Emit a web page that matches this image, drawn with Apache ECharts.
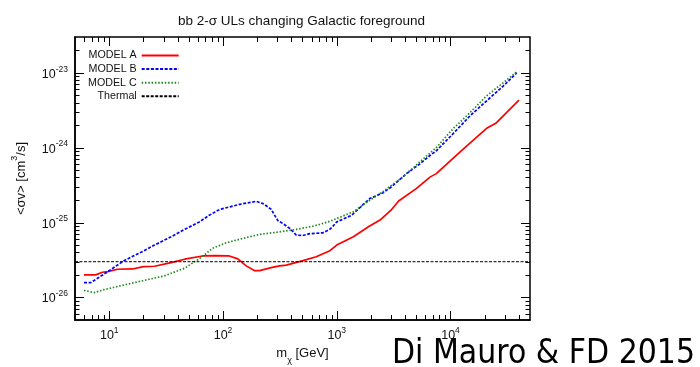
<!DOCTYPE html>
<html>
<head>
<meta charset="utf-8">
<script src="https://cdn.jsdelivr.net/npm/echarts@6/dist/echarts.min.js"></script>
<style>
  html, body { margin: 0; padding: 0; background: #fff; }
  #chart { width: 700px; height: 367px; }
</style>
</head>
<body>
<div id="chart"></div>
<script>
// Dark-matter mass (GeV) and 2-sigma upper limits on <sigma v> (cm^3/s), bb channel
const massA = [6, 7.6, 8.7, 9.7, 11.8, 16, 20, 25, 35, 46, 66, 85, 112, 135, 160, 190, 210, 265, 315, 360, 505, 660, 870, 1000, 1400, 1900, 2400, 3000, 3500, 5000, 6600, 7500, 12500, 21000, 25000, 40000];
const sigmaA = [2.0e-26, 2.0e-26, 2.17e-26, 2.21e-26, 2.38e-26, 2.4e-26, 2.58e-26, 2.61e-26, 2.92e-26, 3.24e-26, 3.58e-26, 3.62e-26, 3.6e-26, 3.27e-26, 2.64e-26, 2.28e-26, 2.28e-26, 2.5e-26, 2.64e-26, 2.7e-26, 3.1e-26, 3.5e-26, 4.21e-26, 5.0e-26, 6.46e-26, 8.77e-26, 1.08e-25, 1.46e-25, 1.94e-25, 2.84e-25, 4.04e-25, 4.5e-25, 9.15e-25, 1.83e-24, 2.11e-24, 4.31e-24];

const massB = [6, 6.9, 9.7, 13.5, 20, 25, 35, 46, 62, 75, 93, 115, 140, 196, 225, 266, 280, 304, 336, 386, 441, 500, 578, 757, 867, 930, 1000, 1350, 1950, 2560, 3030, 4100, 5400, 6600, 7550, 10600, 14900, 20800, 29200, 38300];
const sigmaB = [1.58e-26, 1.58e-26, 2.21e-26, 3.1e-26, 4.17e-26, 5.0e-26, 6.46e-26, 8.1e-26, 1.02e-25, 1.24e-25, 1.49e-25, 1.62e-25, 1.75e-25, 1.92e-25, 1.79e-25, 1.5e-25, 1.3e-25, 1.06e-25, 9.7e-26, 8.35e-26, 6.8e-26, 6.7e-26, 7.1e-26, 7.3e-26, 8.1e-26, 9.0e-26, 1.02e-25, 1.25e-25, 2.09e-25, 2.5e-25, 3.0e-25, 4.49e-25, 6.1e-25, 7.85e-25, 9.15e-25, 1.55e-24, 2.67e-24, 4.22e-24, 6.68e-24, 1.0e-23];

const massC = [6, 7.4, 9, 13.5, 20, 30.5, 46, 64, 81, 107, 150, 210, 294, 441, 620, 708, 870, 1000, 1400, 1950, 2560, 3840, 5400, 7550, 10600, 14900, 20800, 29200, 38300];
const sigmaC = [1.24e-26, 1.16e-26, 1.27e-26, 1.47e-26, 1.68e-26, 1.94e-26, 2.46e-26, 3.4e-26, 4.53e-26, 5.37e-26, 6.15e-26, 6.95e-26, 7.4e-26, 8.1e-26, 8.96e-26, 9.44e-26, 1.04e-25, 1.13e-25, 1.39e-25, 1.98e-25, 2.6e-25, 4.1e-25, 6.5e-25, 1.01e-24, 1.81e-24, 2.95e-24, 4.92e-24, 7.38e-24, 1.03e-23];

// Thermal relic cross section, drawn across the full mass range
const thermalMass = [5, 50000];
const thermalSigma = [3e-26, 3e-26];

const seriesNames = ['MODEL A', 'MODEL B', 'MODEL C', 'Thermal'];

// Axis ranges and tick positions
const X_MIN = 5, X_MAX = 50000;
const Y_MIN = 5e-27, Y_MAX = 3e-23;
const xMajorTicks = [10, 100, 1000, 10000];
const yMajorTicks = [1e-26, 1e-25, 1e-24, 1e-23];

function minorTicks(lo, hi) {
  const out = [];
  for (let e = Math.floor(Math.log10(lo)); e <= Math.ceil(Math.log10(hi)); e++) {
    for (let k = 2; k <= 9; k++) {
      const v = Number((k * Math.pow(10, e)).toPrecision(3));
      if (v > lo * 1.0001 && v < hi * 0.9999) out.push(v);
    }
  }
  return out;
}
const xMinorTicks = minorTicks(X_MIN, X_MAX);
const yMinorTicks = minorTicks(Y_MIN, Y_MAX);

const pairs = (xs, ys) => xs.map((x, i) => [x, ys[i]]);

const FONT = 'Liberation Sans, Arial, Helvetica, sans-serif';
const isDecade = v => Math.abs(Math.log10(v) - Math.round(Math.log10(v))) < 1e-6;
const powRich = {
  b: { fontSize: 12.5, fontFamily: FONT, color: '#111', lineHeight: 16, verticalAlign: 'bottom' },
  s: { fontSize: 8.5, fontFamily: FONT, color: '#111', lineHeight: 16, verticalAlign: 'top' }
};
const powFormatter = v => isDecade(v) ? '{b|10}{s|' + Math.round(Math.log10(v)) + '}' : '';

const chart = echarts.init(document.getElementById('chart'), null, { renderer: 'canvas' });

function lineSeries(name, data, color, width, type) {
  return {
    name: name, type: 'line', data: data,
    symbol: 'none', smooth: false, clip: true,
    lineStyle: { color: color, width: width, type: type },
    itemStyle: { color: color },
    emphasis: { disabled: true },
    z: 3
  };
}

chart.setOption({
  animation: false,
  backgroundColor: '#fff',
  title: {
    text: 'bb 2-σ ULs changing Galactic foreground',
    left: 173, top: 9,
    textStyle: { fontSize: 13.5, fontWeight: 'normal', fontFamily: FONT, color: '#111' }
  },
  grid: {
    left: 75, top: 37, width: 455, height: 283,
    show: true, borderColor: '#000', borderWidth: 1.5, backgroundColor: 'transparent',
    containLabel: false, outerBoundsMode: 'none'
  },
  legend: {
    data: seriesNames,
    orient: 'vertical', align: 'right',
    left: 83, top: 45,
    itemWidth: 37, itemHeight: 10, itemGap: 2.6,
    itemStyle: { opacity: 0 },
    textStyle: { fontSize: 10.7, fontFamily: FONT, color: '#111' },
    selectedMode: false
  },
  xAxis: {
    type: 'log', logBase: 10, min: X_MIN, max: X_MAX, position: 'bottom', z: 5,
    axisLine: { show: true, onZero: false, lineStyle: { color: '#000', width: 1.5 } },
    axisTick: { show: false },
    minorTick: { show: false },
    splitLine: { show: false },
    axisLabel: { show: true, customValues: xMajorTicks, margin: 6, formatter: powFormatter, rich: powRich },
    name: '{a|m}{sub|χ}{a| [GeV]}',
    nameLocation: 'middle', nameGap: 27,
    nameTextStyle: {
      rich: {
        a: { fontSize: 13, fontFamily: FONT, color: '#111', lineHeight: 18, verticalAlign: 'top' },
        sub: { fontSize: 9, fontFamily: FONT, color: '#111', lineHeight: 18, verticalAlign: 'bottom' }
      }
    }
  },
  yAxis: {
    type: 'log', logBase: 10, min: Y_MIN, max: Y_MAX, position: 'left',
    axisLine: { show: true, onZero: false, lineStyle: { color: '#000', width: 1.5 } },
    axisTick: { show: false },
    minorTick: { show: false },
    splitLine: { show: false },
    axisLabel: { show: true, margin: 7, formatter: powFormatter, rich: powRich, showMinLabel: false, showMaxLabel: false },
    name: '{a|<σv> [cm}{sup|3}{a|/s]}',
    nameLocation: 'middle', nameGap: 47,
    nameTextStyle: {
      rich: {
        a: { fontSize: 13, fontFamily: FONT, color: '#111', lineHeight: 18, verticalAlign: 'bottom' },
        sup: { fontSize: 9, fontFamily: FONT, color: '#111', lineHeight: 18, verticalAlign: 'top' }
      }
    }
  },
  series: [
    lineSeries(seriesNames[0], pairs(massA, sigmaA), '#ff0000', 1.7, 'solid'),
    lineSeries(seriesNames[1], pairs(massB, sigmaB), '#0000ff', 1.7, [3, 1.6]),
    lineSeries(seriesNames[2], pairs(massC, sigmaC), '#1f8a1f', 1.7, [1.5, 1.8]),
    lineSeries(seriesNames[3], pairs(thermalMass, thermalSigma), '#000000', 1, [3, 1.5])
  ]
});

// Inward tick marks on all four sides, placed through the axes' own log scales
const toX = v => chart.convertToPixel({ xAxisIndex: 0 }, v);
const toY = v => chart.convertToPixel({ yAxisIndex: 0 }, v);
const gLeft = toX(X_MIN), gRight = toX(X_MAX), gBottom = toY(Y_MIN), gTop = toY(Y_MAX);
const ticks = [];
function tick(x1, y1, x2, y2) {
  ticks.push({ type: 'line', silent: true, z: 10, shape: { x1, y1, x2, y2 }, style: { stroke: '#000', lineWidth: 1 } });
}
function xTicks(values, len) {
  values.forEach(v => {
    const x = Math.round(toX(v)) + 0.5;
    tick(x, gBottom, x, gBottom - len);
    tick(x, gTop, x, gTop + len);
  });
}
function yTicks(values, len) {
  values.forEach(v => {
    const y = Math.round(toY(v)) + 0.5;
    tick(gLeft, y, gLeft + len, y);
    tick(gRight, y, gRight - len, y);
  });
}
xTicks(xMajorTicks, 9); xTicks(xMinorTicks, 5);
yTicks(yMajorTicks, 9); yTicks(yMinorTicks, 4.5);

chart.setOption({
  graphic: ticks.concat([{
    type: 'text', left: 392, top: 337, z: -1,
    style: { text: 'Di Mauro & FD 2015', fontSize: 30, fontFamily: 'Comic Sans MS, DejaVu Sans, sans-serif', fill: '#000' },
    scaleY: 1.15
  }])
});
</script>
</body>
</html>
